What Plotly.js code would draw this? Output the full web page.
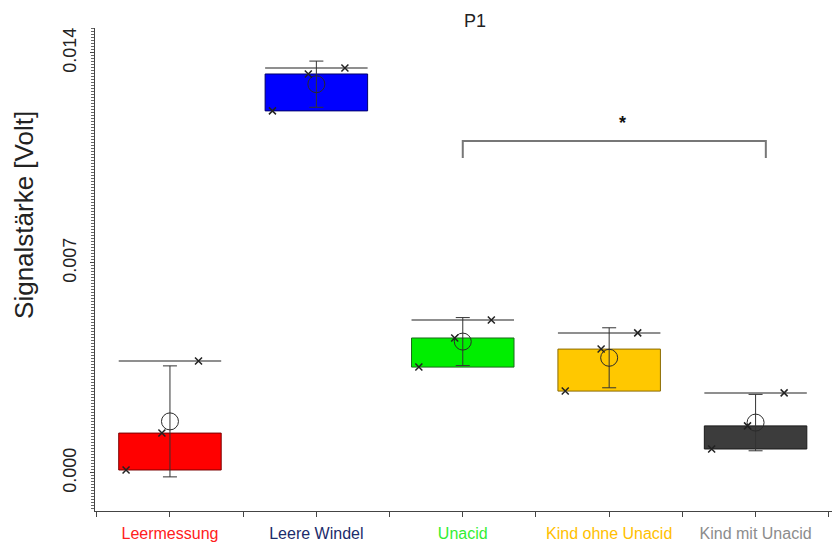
<!DOCTYPE html>
<html>
<head>
<meta charset="utf-8">
<script src="https://cdn.plot.ly/plotly-3.0.1.min.js"></script>
<style>html,body{margin:0;padding:0;background:#fff;}#chart{width:832px;height:543px;}</style>
</head>
<body>
<div id="chart"></div>
<script>
// ---- data ----
const categories = ['Leermessung', 'Leere Windel', 'Unacid', 'Kind ohne Unacid', 'Kind mit Unacid'];
const pointA = [0.0001, 0.01207, 0.00353, 0.00273, 0.0008];   // lowest measurement
const pointB = [0.00133, 0.0133, 0.0045, 0.00413, 0.00157];   // middle measurement
const pointC = [0.00373, 0.0135, 0.0051, 0.00467, 0.00267];   // highest measurement
const boxLow = [0.0001, 0.01207, 0.00353, 0.00273, 0.0008];
const boxHigh = [0.00133, 0.0133, 0.0045, 0.00413, 0.00157];
const maxLine = [0.00373, 0.0135, 0.0051, 0.00467, 0.00267];
const means = [0.00172, 0.01296, 0.00438, 0.00384, 0.00168];
const sds = [0.00185, 0.00077, 0.00080, 0.00100, 0.00094];
const yTickVals = [0, 0.007, 0.014];
const yTickText = ['0.000', '0.007', '0.014'];
const sigPair = [2, 4];
const sigLabel = '*';

// ---- styles ----
const boxColors = ['#FF0000', '#0000FF', '#00EE00', '#FFC800', '#3C3C3C'];
const boxLines = ['#7a0000', '#00006a', '#1a6a1a', '#8a6a00', '#1a1a1a'];
const labelColors = ['#FF2020', '#1C2B6B', '#33EE33', '#FFC000', '#8C8C8C'];
const jitter = [-0.30, -0.055, 0.195];
const boxWidth = 0.70;
const font = 'Liberation Sans, Arial, sans-serif';

const idx = categories.map((c, i) => i);

const traces = [];
// boxes
traces.push({
  type: 'bar', x: idx, base: boxLow,
  y: boxHigh.map((h, i) => h - boxLow[i]),
  width: boxWidth,
  marker: {color: boxColors, line: {color: boxLines, width: 1}},
  hoverinfo: 'skip', showlegend: false
});
// max lines
const mlx = [], mly = [];
idx.forEach(i => { mlx.push(i - boxWidth / 2, i + boxWidth / 2, null); mly.push(maxLine[i], maxLine[i], null); });
traces.push({type: 'scatter', mode: 'lines', x: mlx, y: mly, line: {color: '#6a6a6a', width: 1.5}, showlegend: false, hoverinfo: 'skip'});
// mean +/- sd
traces.push({
  type: 'scatter', mode: 'markers', x: idx, y: means,
  marker: {symbol: 'circle-open', size: 17, color: '#2a2a2a', line: {width: 1, color: '#2a2a2a'}},
  error_y: {type: 'data', array: sds, visible: true, color: '#333', thickness: 1, width: 7},
  showlegend: false, hoverinfo: 'skip'
});
// individual points
const px = [], py = [];
[pointA, pointB, pointC].forEach((arr, k) => idx.forEach(i => { px.push(i + jitter[k]); py.push(arr[i]); }));
traces.push({
  type: 'scatter', mode: 'markers', x: px, y: py,
  marker: {symbol: 'x-thin-open', size: 7, color: '#222', line: {width: 1.5, color: '#222'}},
  showlegend: false, hoverinfo: 'skip'
});
// significance bracket
const bTop = 0.01107, bBot = 0.0105;
traces.push({
  type: 'scatter', mode: 'lines',
  x: [sigPair[0], sigPair[0], sigPair[1] + 0.07, sigPair[1] + 0.07],
  y: [bBot, bTop, bTop, bBot],
  line: {color: '#777', width: 2}, showlegend: false, hoverinfo: 'skip'
});

const layout = {
  width: 832, height: 543,
  margin: {l: 95, r: 0, t: 28, b: 32},
  paper_bgcolor: '#fff', plot_bgcolor: '#fff',
  font: {family: font, color: '#222'},
  title: {text: 'P1', font: {size: 18, family: font, color: '#222'}, xref: 'container', x: 0.571, xanchor: 'center', yref: 'container', y: 0.962, yanchor: 'middle'},
  xaxis: {
    range: [-0.512, 4.522], showgrid: false, zeroline: false,
    showline: true, linecolor: '#444', linewidth: 1,
    tickvals: idx,
    ticktext: categories.map((c, i) => '<span style="color:' + labelColors[i] + '">' + c + '</span>'),
    ticks: 'outside', ticklen: 5, tickcolor: '#444',
    tickfont: {size: 16, family: font},
    minor: {dtick: 0.5, tick0: 0, ticks: 'outside', ticklen: 5, tickcolor: '#444'},
    ticklabelstandoff: 3
  },
  yaxis: {
    range: [-0.001267, 0.014833], showgrid: false, zeroline: false,
    showline: true, linecolor: '#444', linewidth: 1,
    tickvals: yTickVals, ticktext: yTickText, tickangle: -90,
    ticks: 'outside', ticklen: 4, tickcolor: '#444',
    tickfont: {size: 18, family: font, color: '#222'},
    minor: {dtick: 0.0001, tick0: 0, ticks: 'outside', ticklen: 3, tickcolor: '#666'},
    ticklabelstandoff: 7
  },
  annotations: [{
    x: (sigPair[0] + sigPair[1]) / 2 + 0.094, y: 0.01165, xref: 'x', yref: 'y',
    text: '<b>' + sigLabel + '</b>', showarrow: false, font: {size: 18, family: font, color: '#111'},
    yanchor: 'middle'
  }, {
    x: -0.0963, y: 0.613, xref: 'paper', yref: 'paper',
    text: 'Signalstärke [Volt]', textangle: -90, showarrow: false,
    font: {size: 26, family: font, color: '#222'}, xanchor: 'center', yanchor: 'middle'
  }],
  bargap: 0
};

Plotly.newPlot('chart', traces, layout, {displayModeBar: false, staticPlot: true});
</script>
</body>
</html>
